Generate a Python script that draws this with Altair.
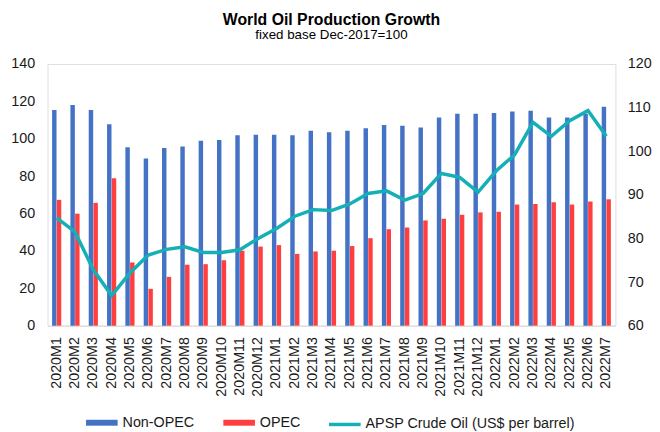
import altair as alt
import pandas as pd

months = ["2020M1", "2020M2", "2020M3", "2020M4", "2020M5", "2020M6", "2020M7", "2020M8",
          "2020M9", "2020M10", "2020M11", "2020M12", "2021M1", "2021M2", "2021M3", "2021M4",
          "2021M5", "2021M6", "2021M7", "2021M8", "2021M9", "2021M10", "2021M11", "2021M12",
          "2022M1", "2022M2", "2022M3", "2022M4", "2022M5", "2022M6", "2022M7"]
non_opec = [115.3, 118.0, 115.3, 107.7, 95.4, 89.4, 95.1, 95.8, 98.9, 99.3, 101.8, 102.1,
            102.1, 101.8, 104.2, 103.5, 104.2, 105.6, 107.4, 106.9, 106.0, 111.4, 113.4, 113.4,
            113.7, 114.6, 115.0, 111.4, 111.4, 113.4, 117.1]
opec = [67.3, 59.9, 65.7, 78.9, 33.8, 19.7, 26.1, 32.6, 32.9, 35.0, 40.1, 42.3,
        43.1, 38.4, 39.7, 40.1, 42.6, 46.8, 51.6, 52.5, 56.3, 57.2, 59.3, 60.6,
        60.9, 64.8, 65.1, 66.0, 64.8, 66.4, 67.6]
crude = [84.7, 81.5, 72.8, 66.9, 72.1, 76.2, 77.5, 78.1, 76.8, 76.8, 77.4, 80.0,
         82.3, 85.1, 86.6, 86.4, 87.9, 90.3, 90.9, 88.8, 90.3, 94.9, 94.0, 90.6,
         95.5, 99.2, 106.6, 103.4, 107.0, 109.3, 103.4]
bar_series = ["Non-OPEC", "OPEC"]
line_series = "APSP Crude Oil (US$ per barrel)"
left_ticks = [0, 20, 40, 60, 80, 100, 120, 140]
right_ticks = [60, 70, 80, 90, 100, 110, 120]

BLUE = "#4472C4"
RED = "#FF3F3F"
TEAL = "#14AFB7"
FONT = "Liberation Sans"
TXT = "#1a1a1a"

bars_df = pd.DataFrame(
    [{"month": m, "series": bar_series[0], "value": v} for m, v in zip(months, non_opec)]
    + [{"month": m, "series": bar_series[1], "value": v} for m, v in zip(months, opec)]
)
line_df = pd.DataFrame({"month": months, "price": crude, "series": [line_series] * len(months)})

x_enc = alt.X(
    "month:N",
    sort=months,
    scale=alt.Scale(paddingInner=0.5, paddingOuter=0.25),
    axis=alt.Axis(title=None, labelAngle=-90, labelFontSize=14.5, labelColor=TXT,
                  labelFont=FONT, ticks=False, domainColor="#d9d9d9", labelPadding=11,
                  labelBaseline="middle", labelAlign="right"),
)

bar_path = "M-1,-0.1875 L1,-0.1875 L1,0.1875 L-1,0.1875 Z"

bars = alt.Chart(bars_df).mark_bar().encode(
    x=x_enc,
    xOffset=alt.XOffset("series:N", sort=bar_series, scale=alt.Scale(paddingInner=0.06)),
    y=alt.Y("value:Q",
            scale=alt.Scale(domain=[0, 140], nice=False),
            axis=alt.Axis(title=None, values=left_ticks, grid=False, domain=False, ticks=False,
                          labelFontSize=14.5, labelColor=TXT, labelFont=FONT, labelPadding=13)),
    color=alt.Color("series:N",
                    scale=alt.Scale(domain=bar_series, range=[BLUE, RED]),
                    legend=alt.Legend(title=None, orient="none", direction="horizontal",
                                      legendX=39, legendY=347,
                                      symbolType=bar_path, symbolSize=1024,
                                      symbolStrokeWidth=0, labelFontSize=14.5,
                                      labelFont=FONT, labelColor=TXT, labelOffset=5,
                                      labelLimit=400, columnPadding=29)),
)

line = alt.Chart(line_df).mark_line(strokeWidth=3.5).encode(
    x=alt.X("month:N", sort=months),
    y=alt.Y("price:Q",
            scale=alt.Scale(domain=[60, 120], nice=False),
            axis=alt.Axis(title=None, orient="right", values=right_ticks, grid=False,
                          domain=False, ticks=False, labelFontSize=14.5, labelColor=TXT,
                          labelFont=FONT, labelPadding=12)),
    stroke=alt.Stroke("series:N",
                      scale=alt.Scale(domain=[line_series], range=[TEAL]),
                      legend=alt.Legend(title=None, orient="none", direction="horizontal",
                                        legendX=283, legendY=347,
                                        symbolType="stroke", symbolSize=1024,
                                        symbolStrokeWidth=3.5, labelFontSize=14.5,
                                        labelFont=FONT, labelColor=TXT, labelOffset=3,
                                        labelLimit=400)),
)

chart = alt.layer(bars, line).resolve_scale(
    y="independent", color="independent", stroke="independent"
).properties(
    width=575,
    height=265,
    autosize=alt.AutoSizeParams(type="none"),
    padding={"left": 40, "top": 54, "right": 37, "bottom": 105},
    title=alt.TitleParams(
        "World Oil Production Growth",
        subtitle="fixed base Dec-2017=100",
        fontSize=16, fontWeight="bold", font=FONT, color="#000000",
        subtitleFontSize=13.5, subtitleFont=FONT, subtitleColor="#000000",
        subtitlePadding=0, anchor="middle", offset=15,
    ),
).configure_view(stroke=None).configure(font=FONT)

chart.save("out.html", embed_options={"renderer": "svg", "actions": False})
